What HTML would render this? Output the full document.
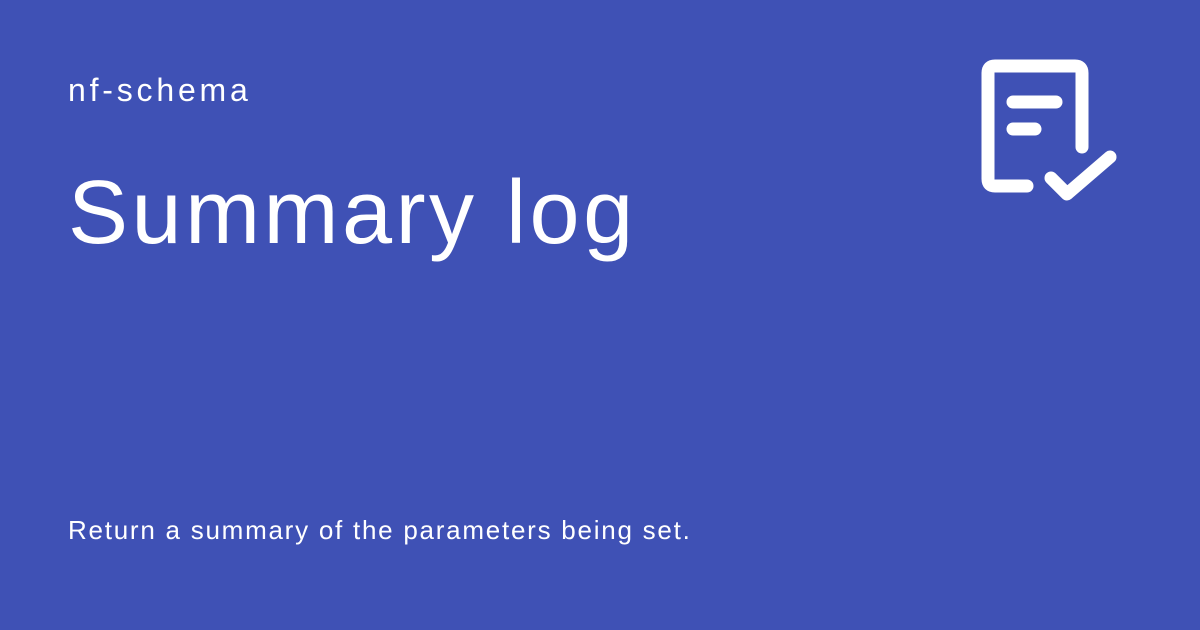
<!DOCTYPE html>
<html><head><style>
html,body{margin:0;padding:0}
body{width:1200px;height:630px;background:#3f51b5;position:relative;overflow:hidden;font-family:"Liberation Sans",sans-serif;color:#fff}
.t{position:absolute;left:68px;white-space:nowrap}
</style></head><body>
<div class="t" style="top:72px;font-size:32px;letter-spacing:3.8px">nf-schema</div>
<div class="t" style="top:162px;font-size:90px;letter-spacing:3.5px">Summary log</div>
<div class="t" style="top:515px;font-size:26px;letter-spacing:1.75px">Return a summary of the parameters being set.</div>
<svg style="position:absolute;left:0;top:0" width="1200" height="630">
<g fill="none" stroke="#fff" stroke-width="13" stroke-linecap="round" stroke-linejoin="round">
<path d="M1027 186 H995 Q988 186 988 179 V73 Q988 66 995 66 H1075 Q1082 66 1082 73 V147"/>
<path d="M1013 102 H1056 M1013 129 H1035"/>
<path d="M1051 178 L1067 194 L1110 157"/>
</g></svg>
</body></html>
